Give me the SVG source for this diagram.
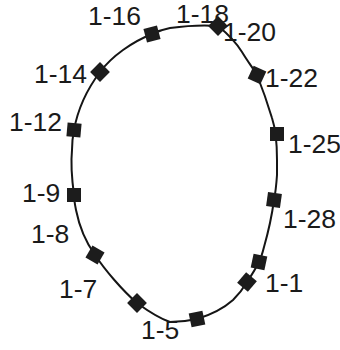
<svg xmlns="http://www.w3.org/2000/svg" width="340" height="350" viewBox="0 0 340 350">
<style>
.lbl{font-family:"Liberation Sans",Arial,sans-serif;font-size:26.5px;fill:#1a1a1a}
.m{fill:#1c1c1c}
.curve{fill:none;stroke:#151515;stroke-width:2;stroke-linejoin:round}
</style>
<defs><rect id="sq" x="-7" y="-7" width="14" height="14" class="m"/></defs>
<rect width="340" height="350" fill="#ffffff"/>
<g id="connectors">
<path class="curve" d="M152,34 C160,30 165,29 170,28 C185,26 205,25 218,26 C228,34 237,44 242,52 C248,62 253,68 257,75 C263,90 269,108 272,118 C276,130 277,145 277,160 L277,175 C276,190 275,195 274,200 C271,222 266,240 264,247 C262,255 261,258 259,262 C255,270 251,276 247,282 C243,289 238,295 233,300 C224,308 210,315 197,319 C188,321 178,322 170,322 C158,318 148,311 137,303 C122,290 105,270 95,255 C85,241 79,225 76,210 C74,200 74,197 74,195 C72,180 71,160 72,150 C72,140 73,135 74,130 C78,108 88,88 100,72 C112,56 132,42 152,34 Z"/>
</g>
<g id="n1-16"><text class="lbl" x="88" y="25">1-16</text><use href="#sq" transform="translate(152,34) rotate(-15)"/></g>
<g id="n1-18"><text class="lbl" x="176" y="23">1-18</text><use href="#sq" transform="translate(218,26) rotate(45)"/></g>
<g id="n1-20"><text class="lbl" x="223" y="41">1-20</text></g>
<g id="n1-22"><use href="#sq" transform="translate(257,75) rotate(25)"/><text class="lbl" x="265" y="87">1-22</text></g>
<g id="n1-25"><use href="#sq" transform="translate(277,134)"/><text class="lbl" x="288" y="153">1-25</text></g>
<g id="n1-28"><use href="#sq" transform="translate(274,200) rotate(8)"/><text class="lbl" x="283" y="228">1-28</text></g>
<g id="n-unl"><use href="#sq" transform="translate(259,262) rotate(12)"/></g>
<g id="n1-1"><use href="#sq" transform="translate(247,282) rotate(40)"/><text class="lbl" x="265" y="292">1-1</text></g>
<g id="n1-5"><use href="#sq" transform="translate(197,319) rotate(-12)"/><text class="lbl" x="141" y="339">1-5</text></g>
<g id="n1-7"><use href="#sq" transform="translate(137,303) rotate(45)"/><text class="lbl" x="59" y="298">1-7</text></g>
<g id="n1-8"><use href="#sq" transform="translate(95,255) rotate(30)"/><text class="lbl" x="31" y="243">1-8</text></g>
<g id="n1-9"><use href="#sq" transform="translate(74,195)"/><text class="lbl" x="22" y="202">1-9</text></g>
<g id="n1-12"><use href="#sq" transform="translate(74,130) rotate(5)"/><text class="lbl" x="9" y="131">1-12</text></g>
<g id="n1-14"><use href="#sq" transform="translate(100,72) rotate(45)"/><text class="lbl" x="34" y="83">1-14</text></g>
</svg>
